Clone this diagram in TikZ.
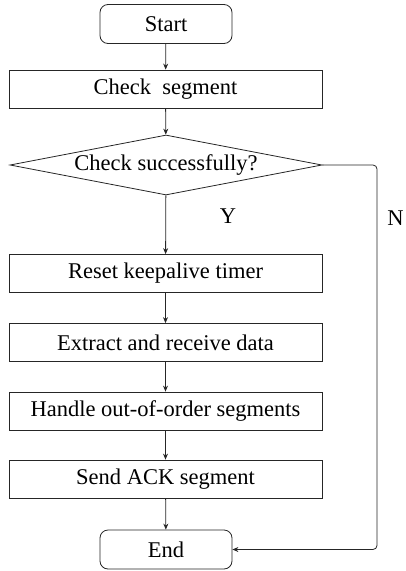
\documentclass[tikz,border=0pt]{standalone}
\usepackage{fontspec}
\setmainfont{Liberation Serif}
\usetikzlibrary{shapes.geometric,arrows.meta}
\begin{document}
\begin{tikzpicture}[x=1pt,y=-1pt,
  every node/.style={font=\fontsize{22.5}{26}\selectfont, text=black},
  proc/.style={draw=black!85, line width=0.8pt, minimum width=313pt, minimum height=38pt, inner sep=0pt},
  term/.style={draw=black!85, line width=0.8pt, rounded corners=8pt, minimum width=132pt, minimum height=39pt, inner sep=0pt},
  dec/.style={draw=black!85, line width=0.8pt, diamond, aspect=5.2, minimum width=312pt, minimum height=60pt, inner sep=0pt},
  conn/.style={draw=black!85, line width=0.8pt, -{Stealth[length=6pt,width=5pt]}}
]
\useasboundingbox (0,0) rectangle (405,571);
\node[term] (start) at (166,24) {Start};
\node[proc] (check) at (165.5,89) {Check\ \ segment};
\node[dec] (dec) at (166,165) {Check successfully?};
\node[proc] (reset) at (165.5,273.5) {Reset keepalive timer};
\node[proc] (extract) at (165.5,342.5) {Extract and receive data};
\node[proc] (handle) at (165.5,411) {Handle out-of-order segments};
\node[proc] (send) at (165.5,479) {Send ACK segment};
\node[term] (end) at (166,549.5) {End};
\node (ylab) at (228,216) {Y};
\node (nlab) at (395.5,218) {N};
\coordinate (c1) at (377,165);
\coordinate (c2) at (377,549.5);
\draw[conn] (start) -- (check);
\draw[conn] (check) -- (dec);
\draw[conn] (dec) -- (reset);
\draw[conn] (reset) -- (extract);
\draw[conn] (extract) -- (handle);
\draw[conn] (handle) -- (send);
\draw[conn] (send) -- (end);
\draw[conn, rounded corners=4pt] (dec.east) -- (c1) -- (c2) -- (end.east);
\end{tikzpicture}
\end{document}
